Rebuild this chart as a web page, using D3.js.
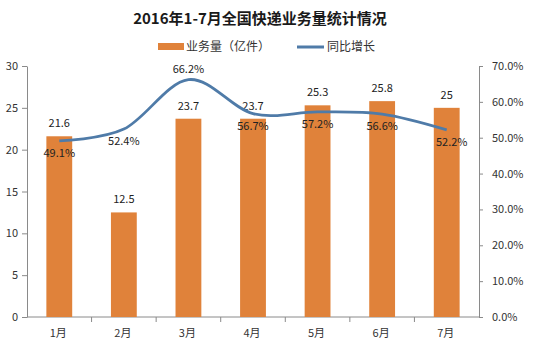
<!DOCTYPE html>
<html>
<head>
<meta charset="utf-8">
<script src="https://cdn.jsdelivr.net/npm/d3@7"></script>
<style>
  body { margin: 0; background: #fff; }
  text { font-family: "Noto Sans CJK SC", "Noto Sans", sans-serif; }
</style>
</head>
<body>
<script>
// 데이터
const months = ["1月", "2月", "3月", "4月", "5月", "6月", "7月"];
const volume = [21.6, 12.5, 23.7, 23.7, 25.3, 25.8, 25];
const growth = [49.1, 52.4, 66.2, 56.7, 57.2, 56.6, 52.2];
const leftTicks = [0, 5, 10, 15, 20, 25, 30];
const rightTicks = [0, 10, 20, 30, 40, 50, 60, 70];

const W = 537, H = 361;
const margin = { top: 66, right: 58, bottom: 44, left: 27 };
const innerW = W - margin.left - margin.right;
const innerH = H - margin.top - margin.bottom;

const barColor = "#e0823a";
const lineColor = "#4f7ba8";
const axisColor = "#8a8a8a";

const svg = d3.select("body").append("svg")
  .attr("width", W).attr("height", H);

// 제목
svg.append("text")
  .attr("x", 260).attr("y", 24)
  .attr("text-anchor", "middle")
  .attr("font-size", "15px").attr("font-weight", "bold")
  .attr("fill", "#1a1a1a")
  .text("2016年1-7月全国快递业务量统计情况");

// 범례
const legend = svg.append("g");
legend.append("rect").attr("x", 158).attr("y", 43).attr("width", 26).attr("height", 7).attr("fill", barColor);
legend.append("text").attr("x", 186).attr("y", 51).attr("font-size", "12px").attr("fill", "#333").text("业务量（亿件）");
legend.append("line").attr("x1", 297).attr("x2", 324).attr("y1", 47).attr("y2", 47)
  .attr("stroke", lineColor).attr("stroke-width", 3);
legend.append("text").attr("x", 327).attr("y", 51).attr("font-size", "12px").attr("fill", "#333").text("同比增长");

const g = svg.append("g").attr("transform", `translate(${margin.left},${margin.top})`);

const x = d3.scaleBand().domain(months).range([0, innerW]).paddingInner(0.6).paddingOuter(0.3);
const xBand = d3.scaleBand().domain(months).range([0, innerW]);
const y = d3.scaleLinear().domain([0, 30]).range([innerH, 0]);
const y2 = d3.scaleLinear().domain([0, 70]).range([innerH, 0]);

// 축
const styleAxis = sel => {
  sel.select(".domain").attr("stroke", axisColor);
  sel.selectAll(".tick line").attr("stroke", axisColor);
  sel.selectAll(".tick text").attr("fill", "#333").attr("font-size", "11px")
    .attr("font-family", "'Noto Sans', sans-serif");
};

g.append("g")
  .call(d3.axisLeft(y).tickValues(leftTicks).tickSize(5).tickSizeOuter(0).tickPadding(4))
  .call(styleAxis);

g.append("g").attr("transform", `translate(${innerW},0)`)
  .call(d3.axisRight(y2).tickValues(rightTicks).tickFormat(d => d.toFixed(1) + "%").tickSize(4).tickSizeOuter(0).tickPadding(9))
  .call(styleAxis);

// x축: 밴드 경계에 눈금
const xAxis = g.append("g").attr("transform", `translate(0,${innerH})`);
xAxis.append("line").attr("x1", 0).attr("x2", innerW).attr("stroke", axisColor);
xAxis.selectAll("line.tk").data(months.slice(1)).enter().append("line")
  .attr("class", "tk")
  .attr("x1", d => xBand(d)).attr("x2", d => xBand(d))
  .attr("y1", 0).attr("y2", 5).attr("stroke", axisColor);
xAxis.selectAll("text").data(months).enter().append("text")
  .attr("x", d => xBand(d) + xBand.bandwidth() / 2 - 1)
  .attr("y", 20)
  .attr("text-anchor", "middle")
  .attr("font-size", "11px").attr("fill", "#333")
  .text(d => d);

// 막대
g.selectAll(".bar").data(months).enter().append("rect")
  .attr("class", "bar")
  .attr("x", d => x(d))
  .attr("width", x.bandwidth())
  .attr("y", (d, i) => y(volume[i]))
  .attr("height", (d, i) => innerH - y(volume[i]))
  .attr("fill", barColor);

g.selectAll(".vlabel").data(months).enter().append("text")
  .attr("class", "vlabel")
  .attr("x", d => x(d) + x.bandwidth() / 2)
  .attr("y", (d, i) => y(volume[i]) - 9)
  .attr("text-anchor", "middle")
  .attr("font-size", "11px").attr("fill", "#222")
  .text((d, i) => volume[i]);

// 곡선
const cx = d => xBand(d) + xBand.bandwidth() / 2;
const line = d3.line()
  .x(d => cx(d))
  .y((d, i) => y2(growth[i]))
  .curve(d3.curveCatmullRom.alpha(0));

g.append("path").datum(months)
  .attr("fill", "none")
  .attr("stroke", lineColor)
  .attr("stroke-width", 2.8)
  .attr("d", line);

g.selectAll(".glabel").data(months).enter().append("text")
  .attr("class", "glabel")
  .attr("x", (d, i) => cx(d) + (i === 6 ? 5 : 0))
  .attr("y", (d, i) => y2(growth[i]) + (growth[i] > 60 ? -7 : 16))
  .attr("text-anchor", "middle")
  .attr("font-size", "11px").attr("fill", "#222")
  .text((d, i) => growth[i].toFixed(1) + "%");
</script>
</body>
</html>
